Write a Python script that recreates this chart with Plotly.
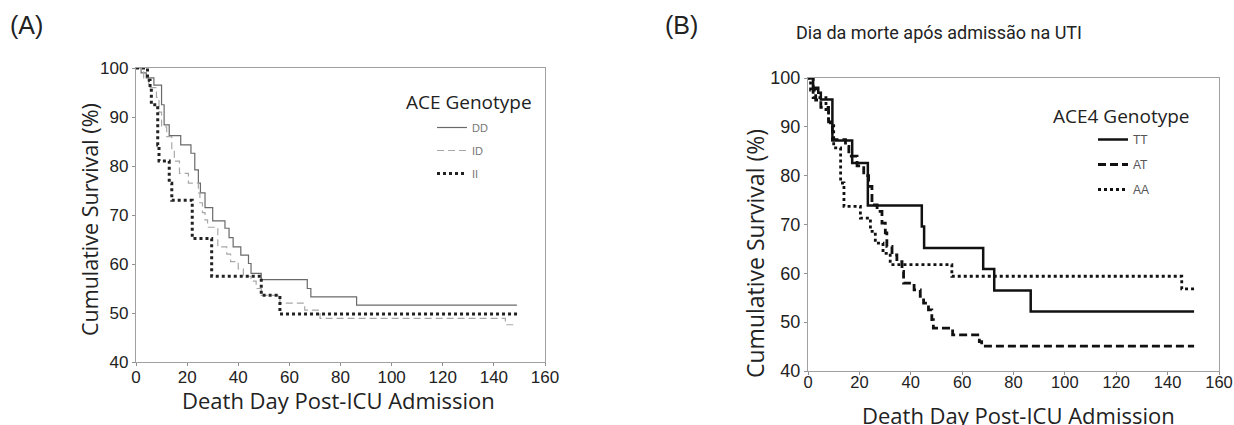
import plotly.graph_objects as go

W, H = 1234, 425

# ---------------- Panel A data (ACE genotype) ----------------
DD_days = [0, 2, 4, 7, 10, 11, 13, 17.5, 21.5, 23, 24.4, 25.2, 27, 30, 34.8, 36.4, 38, 41, 44, 45, 49, 67, 68.4, 86.3, 149]
DD_surv = [100, 99, 98, 96.5, 92.5, 88.4, 86.2, 84.3, 82.6, 79.2, 76.5, 74.5, 71.5, 68.8, 67.3, 65.4, 63.5, 61.8, 60.1, 58.1, 56.8, 55.0, 53.3, 51.6, 51.6]

ID_days = [0, 3, 5, 8, 9, 10, 12, 14, 15, 17, 20.5, 24.4, 25, 26, 27, 28, 32, 35.5, 37, 40, 42, 45, 47, 49, 56.3, 66, 72, 144.5, 147.6]
ID_surv = [100, 98, 96, 94, 91, 88, 86, 83, 81, 78.5, 76.5, 74.5, 72.5, 70.5, 69, 67.5, 63.5, 62, 60.5, 59, 57.5, 56.5, 55, 53.6, 52, 50.6, 48.9, 47.6, 47.6]

II_days = [0, 4.5, 5.5, 6, 8.5, 9, 13, 14, 22, 29.6, 49, 56.3, 149.5]
II_surv = [100, 97.5, 96, 92.5, 84.3, 81, 76.5, 73, 65.2, 57.5, 53.6, 49.8, 49.8]

# ---------------- Panel B data (ACE4 genotype) ----------------
TT_days = [0, 2, 4, 5, 9.5, 17.2, 23.3, 44.3, 45.2, 68.2, 72.5, 86.7, 150.3]
TT_surv = [100, 98, 97, 95.6, 87.2, 82.6, 73.9, 69.6, 65.2, 60.9, 56.5, 52.2, 52.2]

AT_days = [0, 2, 3, 5, 8, 9.5, 14.6, 15.9, 19.1, 21.7, 23.6, 24.9, 26.9, 28.8, 30.1, 30.7, 32.7, 34.6, 36.6, 37.2, 41.3, 43.7, 45, 46.9, 48.2, 48.8, 56.3, 66.7, 67.6, 150.3]
AT_surv = [100, 97.5, 95.5, 94, 91, 87.4, 86, 84, 82, 80, 77.8, 74, 72.7, 70.3, 68.3, 65.5, 63.8, 62.4, 60.4, 58, 56.6, 55.3, 53.9, 52.5, 50.5, 48.8, 47.4, 46, 45.1, 45.1]

AA_days = [0, 1, 2, 7, 8, 10, 12.7, 14, 20.4, 24.3, 26.2, 29.2, 32, 56, 145.5, 150.3]
AA_surv = [100, 97.5, 96, 93, 90.8, 85.7, 78.5, 73.7, 71.3, 68.6, 66.2, 64.1, 61.8, 59.4, 56.8, 56.8]

x_ticks = [0, 20, 40, 60, 80, 100, 120, 140, 160]
y_ticks = [40, 50, 60, 70, 80, 90, 100]

FONT = "Liberation Sans"
TFONT = "Open Sans"


def px(x):
    return x / W


def py(y):
    return 1 - y / H


fig = go.Figure()

# Panel A traces
fig.add_trace(go.Scatter(x=DD_days, y=DD_surv, mode="lines", name="DD",
                         line=dict(shape="hv", color="#6a6a6a", width=1.2),
                         xaxis="x", yaxis="y", legend="legend", legendgroup="a1"))
fig.add_trace(go.Scatter(x=ID_days, y=ID_surv, mode="lines", name="ID",
                         line=dict(shape="hv", color="#a8a8a8", width=1.2, dash="7px,4px"),
                         xaxis="x", yaxis="y", legend="legend", legendgroup="a2"))
fig.add_trace(go.Scatter(x=II_days, y=II_surv, mode="lines", name="II",
                         line=dict(shape="hv", color="#222222", width=3, dash="dot"),
                         xaxis="x", yaxis="y", legend="legend", legendgroup="a3"))

# Panel B traces
fig.add_trace(go.Scatter(x=TT_days, y=TT_surv, mode="lines", name="TT",
                         line=dict(shape="hv", color="#111111", width=2.5),
                         xaxis="x2", yaxis="y2", legend="legend2", legendgroup="b1"))
fig.add_trace(go.Scatter(x=AT_days, y=AT_surv, mode="lines", name="AT",
                         line=dict(shape="hv", color="#111111", width=2.8, dash="8px,4px"),
                         xaxis="x2", yaxis="y2", legend="legend2", legendgroup="b2"))
fig.add_trace(go.Scatter(x=AA_days, y=AA_surv, mode="lines", name="AA",
                         line=dict(shape="hv", color="#111111", width=2.8, dash="dot"),
                         xaxis="x2", yaxis="y2", legend="legend2", legendgroup="b3"))

axis_common = dict(
    showgrid=False, zeroline=False, showline=True, mirror=True, automargin=False,
    linecolor="#a0a0a0", linewidth=1.3, ticks="outside", ticklen=3,
    tickcolor="#909090", tickwidth=1,
)

fig.update_layout(
    width=W, height=H,
    margin=dict(l=0, r=0, t=0, b=0, pad=0, autoexpand=False),
    paper_bgcolor="white", plot_bgcolor="white",
    font=dict(family=FONT, color="#222222"),
    xaxis=dict(domain=[px(136), px(545)], range=[0, 160], tickvals=x_ticks,
               anchor="y", tickfont=dict(size=17, color="#222"),
               ticklabelstandoff=-4, **axis_common),
    yaxis=dict(domain=[py(362), py(68)], range=[40, 100], tickvals=y_ticks,
               anchor="x", tickfont=dict(size=17, color="#222"), **axis_common),
    xaxis2=dict(domain=[px(808), px(1219)], range=[0, 160], tickvals=x_ticks,
                anchor="y2", tickfont=dict(size=16.5, color="#222"),
                ticklabelstandoff=-7, ticklabeloverflow="allow",
                **axis_common),
    yaxis2=dict(domain=[py(371), py(78)], range=[40, 100], tickvals=y_ticks,
                anchor="x2", tickfont=dict(size=18, color="#222"), **axis_common),
    legend=dict(x=px(432), y=py(113), xanchor="left", yanchor="top",
                bgcolor="rgba(0,0,0,0)", font=dict(size=11, color="#777"),
                tracegroupgap=4, itemwidth=30),
    legend2=dict(x=px(1093), y=py(125), xanchor="left", yanchor="top",
                 bgcolor="rgba(0,0,0,0)", font=dict(size=12, color="#555"),
                 tracegroupgap=6, itemwidth=30),
    showlegend=True,
)

annotations = [
    dict(text="(A)", x=px(8), y=py(25), xanchor="left", yanchor="middle",
         font=dict(size=25, color="#222")),
    dict(text="(B)", x=px(663), y=py(25), xanchor="left", yanchor="middle",
         font=dict(size=25, color="#222")),
    dict(text="Dia da morte após admissão na UTI", x=px(939), y=py(32),
         xanchor="center", yanchor="middle",
         font=dict(size=18, color="#222", family="Roboto")),
    dict(text="ACE Genotype", x=px(404), y=py(102), xanchor="left", yanchor="middle",
         font=dict(size=19, color="#222", family=TFONT)),
    dict(text="ACE4 Genotype", x=px(1051), y=py(116), xanchor="left", yanchor="middle",
         font=dict(size=19, color="#222", family=TFONT)),
    # axis titles
    dict(text="Death Day Post-ICU Admission", x=px(338), y=py(400),
         xanchor="center", yanchor="middle", font=dict(size=22, color="#222", family=TFONT)),
    dict(text="Cumulative Survival (%)", x=px(89), y=py(220), textangle=-90,
         xanchor="center", yanchor="middle", font=dict(size=21.5, color="#222", family=TFONT)),
    dict(text="Death Day Post-ICU Admission", x=px(1018), y=py(415),
         xanchor="center", yanchor="middle", font=dict(size=22, color="#222", family=TFONT)),
    dict(text="Cumulative Survival (%)", x=px(755), y=py(254), textangle=-90,
         xanchor="center", yanchor="middle", font=dict(size=23, color="#222", family=TFONT)),
]
for a in annotations:
    a.update(xref="paper", yref="paper", showarrow=False)
fig.update_layout(annotations=annotations)

fig.write_html(
    "out.html",
    config={"displayModeBar": False},
    post_script="document.body.style.margin='0';document.body.style.overflow='hidden';",
)
